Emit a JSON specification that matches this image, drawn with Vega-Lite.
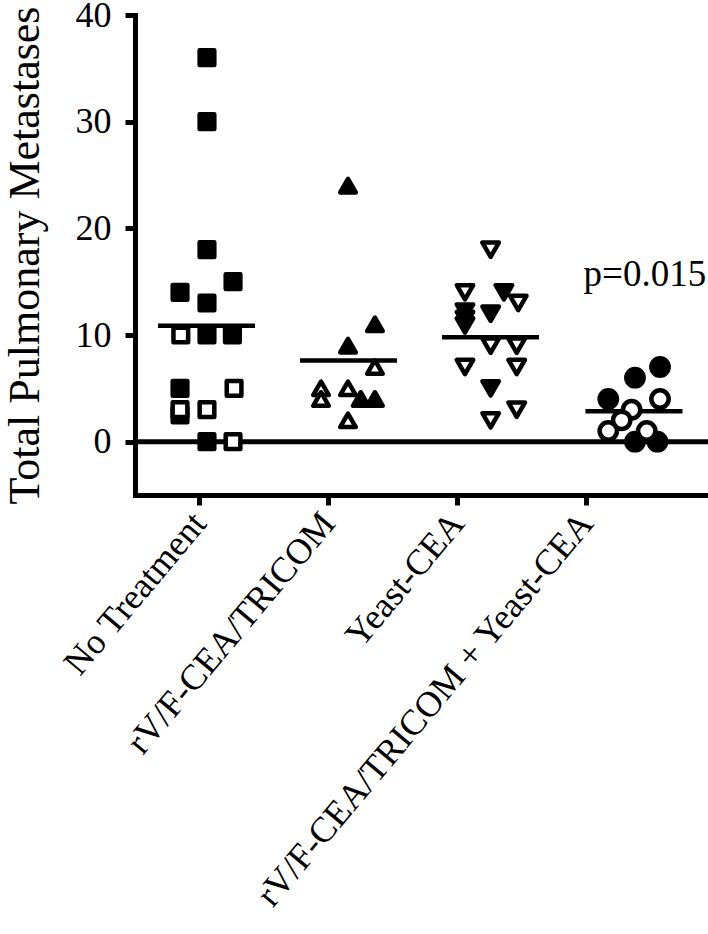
{
  "$schema": "https://vega.github.io/schema/vega-lite/v6.json",
  "width": 573,
  "height": 480,
  "autosize": {"type": "none"},
  "padding": {"left": 135, "top": 15, "right": 0, "bottom": 439},
  "background": "white",
  "config": {
    "view": {"stroke": null},
    "font": "Liberation Serif",
    "axis": {"grid": false, "domainColor": "black", "tickColor": "black", "labelColor": "black", "titleColor": "black", "labelFont": "Liberation Serif", "titleFont": "Liberation Serif", "domainCap": "square"},
    "axisY": {"domainWidth": 5, "tickWidth": 5, "tickSize": 10, "labelFontSize": 36, "labelPadding": 14, "titleFontSize": 44, "titleFontWeight": "normal", "titlePadding": 28},
    "axisX": {"domainWidth": 5, "tickWidth": 5, "tickSize": 10, "labelFontSize": 36, "labelAngle": -50, "labelPadding": 12, "labelAlign": "right", "labelBaseline": "middle", "labelLimit": 0}
  },
  "datasets": {
    "points": [
      {"group": "No Treatment", "value": 36, "marker": "filled", "jitter": 0.058},
      {"group": "No Treatment", "value": 30, "marker": "filled", "jitter": 0.058},
      {"group": "No Treatment", "value": 18, "marker": "filled", "jitter": 0.058},
      {"group": "No Treatment", "value": 15, "marker": "filled", "jitter": 0.26},
      {"group": "No Treatment", "value": 14, "marker": "filled", "jitter": -0.151},
      {"group": "No Treatment", "value": 13, "marker": "filled", "jitter": 0.058},
      {"group": "No Treatment", "value": 10, "marker": "filled", "jitter": 0.058},
      {"group": "No Treatment", "value": 10, "marker": "filled", "jitter": 0.255},
      {"group": "No Treatment", "value": 5, "marker": "filled", "jitter": -0.151},
      {"group": "No Treatment", "value": 2.5, "marker": "filled", "jitter": -0.151},
      {"group": "No Treatment", "value": 0, "marker": "filled", "jitter": 0.058},
      {"group": "No Treatment", "value": 10, "marker": "open", "jitter": -0.145},
      {"group": "No Treatment", "value": 5, "marker": "open", "jitter": 0.268},
      {"group": "No Treatment", "value": 3, "marker": "open", "jitter": -0.151},
      {"group": "No Treatment", "value": 3, "marker": "open", "jitter": 0.058},
      {"group": "No Treatment", "value": 0, "marker": "open", "jitter": 0.26},
      {"group": "rV/F-CEA/TRICOM", "value": 24, "marker": "filled", "jitter": 0.151},
      {"group": "rV/F-CEA/TRICOM", "value": 11, "marker": "filled", "jitter": 0.36},
      {"group": "rV/F-CEA/TRICOM", "value": 9, "marker": "filled", "jitter": 0.151},
      {"group": "rV/F-CEA/TRICOM", "value": 4, "marker": "filled", "jitter": 0.25},
      {"group": "rV/F-CEA/TRICOM", "value": 4, "marker": "filled", "jitter": 0.36},
      {"group": "rV/F-CEA/TRICOM", "value": 7, "marker": "open", "jitter": 0.36},
      {"group": "rV/F-CEA/TRICOM", "value": 5, "marker": "open", "jitter": -0.058},
      {"group": "rV/F-CEA/TRICOM", "value": 4, "marker": "open", "jitter": -0.058},
      {"group": "rV/F-CEA/TRICOM", "value": 5, "marker": "open", "jitter": 0.151},
      {"group": "rV/F-CEA/TRICOM", "value": 2, "marker": "open", "jitter": 0.151},
      {"group": "Yeast-CEA", "value": 18, "marker": "open", "jitter": 0.257},
      {"group": "Yeast-CEA", "value": 14, "marker": "open", "jitter": 0.058},
      {"group": "Yeast-CEA", "value": 13, "marker": "open", "jitter": 0.471},
      {"group": "Yeast-CEA", "value": 9, "marker": "open", "jitter": 0.257},
      {"group": "Yeast-CEA", "value": 9, "marker": "open", "jitter": 0.459},
      {"group": "Yeast-CEA", "value": 7, "marker": "open", "jitter": 0.058},
      {"group": "Yeast-CEA", "value": 7, "marker": "open", "jitter": 0.459},
      {"group": "Yeast-CEA", "value": 3, "marker": "open", "jitter": 0.459},
      {"group": "Yeast-CEA", "value": 2, "marker": "open", "jitter": 0.257},
      {"group": "Yeast-CEA", "value": 14, "marker": "filled", "jitter": 0.36},
      {"group": "Yeast-CEA", "value": 12.2, "marker": "filled", "jitter": 0.058},
      {"group": "Yeast-CEA", "value": 11.5, "marker": "filled", "jitter": 0.058},
      {"group": "Yeast-CEA", "value": 10.9, "marker": "filled", "jitter": 0.058},
      {"group": "Yeast-CEA", "value": 12, "marker": "filled", "jitter": 0.257},
      {"group": "Yeast-CEA", "value": 5, "marker": "filled", "jitter": 0.257},
      {"group": "rV/F-CEA/TRICOM + Yeast-CEA", "value": 7, "marker": "filled", "jitter": 0.57},
      {"group": "rV/F-CEA/TRICOM + Yeast-CEA", "value": 6, "marker": "filled", "jitter": 0.376},
      {"group": "rV/F-CEA/TRICOM + Yeast-CEA", "value": 4, "marker": "filled", "jitter": 0.169},
      {"group": "rV/F-CEA/TRICOM + Yeast-CEA", "value": 0, "marker": "filled", "jitter": 0.376},
      {"group": "rV/F-CEA/TRICOM + Yeast-CEA", "value": 0, "marker": "filled", "jitter": 0.55},
      {"group": "rV/F-CEA/TRICOM + Yeast-CEA", "value": 4, "marker": "open", "jitter": 0.57},
      {"group": "rV/F-CEA/TRICOM + Yeast-CEA", "value": 3, "marker": "open", "jitter": 0.35},
      {"group": "rV/F-CEA/TRICOM + Yeast-CEA", "value": 2, "marker": "open", "jitter": 0.273},
      {"group": "rV/F-CEA/TRICOM + Yeast-CEA", "value": 1, "marker": "open", "jitter": 0.169},
      {"group": "rV/F-CEA/TRICOM + Yeast-CEA", "value": 1, "marker": "open", "jitter": 0.467}
    ],
    "means": [
      {"group": "No Treatment", "value": 10.86, "jitter": 0.054},
      {"group": "rV/F-CEA/TRICOM", "value": 7.6, "jitter": 0.155},
      {"group": "Yeast-CEA", "value": 9.8, "jitter": 0.256},
      {"group": "rV/F-CEA/TRICOM + Yeast-CEA", "value": 2.84, "jitter": 0.368}
    ],
    "notes": [
      {"group": "rV/F-CEA/TRICOM + Yeast-CEA", "value": 14.6, "jitter": 0.453, "label": "p=0.015"}
    ]
  },
  "layer": [
    {
      "data": {"values": [{}]},
      "mark": {"type": "rule", "strokeWidth": 5, "color": "black"},
      "encoding": {"y": {"datum": 0, "type": "quantitative"}}
    },
    {
      "data": {"name": "means"},
      "mark": {"type": "tick", "size": 97, "thickness": 4.5, "color": "black", "opacity": 1},
      "encoding": {
        "x": {"field": "group", "type": "nominal", "scale": {"domain": ["No Treatment", "rV/F-CEA/TRICOM", "Yeast-CEA", "rV/F-CEA/TRICOM + Yeast-CEA"], "paddingInner": 0, "paddingOuter": 0.221, "align": 0}, "axis": {"title": null}},
        "xOffset": {"field": "jitter", "type": "quantitative", "scale": {"domain": [-0.5, 0.5]}},
        "y": {"field": "value", "type": "quantitative", "scale": {"domain": [-5, 40], "nice": false, "zero": false}, "axis": {"values": [0, 10, 20, 30, 40], "title": "Total Pulmonary Metastases"}}
      }
    },
    {
      "data": {"name": "points"},
      "mark": {"type": "point", "filled": true, "stroke": "black", "strokeWidth": 4.5, "strokeJoin": "round", "opacity": 1, "fillOpacity": 1, "strokeOpacity": 1},
      "encoding": {
        "x": {"field": "group", "type": "nominal", "scale": {"domain": ["No Treatment", "rV/F-CEA/TRICOM", "Yeast-CEA", "rV/F-CEA/TRICOM + Yeast-CEA"], "paddingInner": 0, "paddingOuter": 0.221, "align": 0}, "axis": {"title": null}},
        "xOffset": {"field": "jitter", "type": "quantitative", "scale": {"domain": [-0.5, 0.5]}},
        "y": {"field": "value", "type": "quantitative", "scale": {"domain": [-5, 40], "nice": false, "zero": false}, "axis": {"values": [0, 10, 20, 30, 40], "title": "Total Pulmonary Metastases"}},
        "shape": {"field": "group", "type": "nominal", "scale": {"domain": ["No Treatment", "rV/F-CEA/TRICOM", "Yeast-CEA", "rV/F-CEA/TRICOM + Yeast-CEA"], "range": ["square", "triangle-up", "triangle-down", "circle"]}, "legend": null},
        "size": {"field": "group", "type": "nominal", "scale": {"domain": ["No Treatment", "rV/F-CEA/TRICOM", "Yeast-CEA", "rV/F-CEA/TRICOM + Yeast-CEA"], "range": [215, 300, 300, 250]}, "legend": null},
        "fill": {"field": "marker", "type": "nominal", "scale": {"domain": ["filled", "open"], "range": ["black", "white"]}, "legend": null}
      }
    },
    {
      "data": {"name": "notes"},
      "mark": {"type": "text", "fontSize": 37, "font": "Liberation Serif", "color": "black", "align": "center", "baseline": "alphabetic"},
      "encoding": {
        "x": {"field": "group", "type": "nominal", "scale": {"domain": ["No Treatment", "rV/F-CEA/TRICOM", "Yeast-CEA", "rV/F-CEA/TRICOM + Yeast-CEA"], "paddingInner": 0, "paddingOuter": 0.221, "align": 0}, "axis": {"title": null}},
        "xOffset": {"field": "jitter", "type": "quantitative", "scale": {"domain": [-0.5, 0.5]}},
        "y": {"field": "value", "type": "quantitative", "scale": {"domain": [-5, 40], "nice": false, "zero": false}},
        "text": {"field": "label"}
      }
    }
  ]
}
